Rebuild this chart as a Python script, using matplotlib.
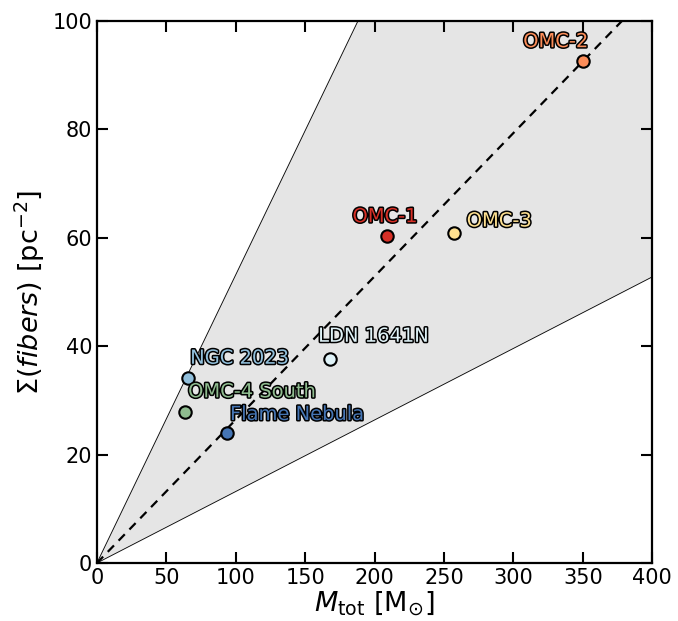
import numpy as np
import matplotlib
matplotlib.use("Agg")
import matplotlib.pyplot as plt
import matplotlib.patheffects as pe


# cloud data
names = ["OMC-1", "OMC-2", "OMC-3", "OMC-4 South", "NGC 2023", "Flame Nebula", "LDN 1641N"]
m_tot = [209, 350, 257, 63.5, 65.7, 93.7, 168]
sigma_fib = [60.4, 92.7, 60.9, 27.9, 34.1, 23.9, 37.6]
colors = ["#d73027", "#fc8d59", "#fee090", "#8fbc8f", "#91bfdb", "#4575b4", "#e0f3f8"]

# label offsets in pixels and alignment
label_offsets = [(-2, 19), (-27, 19), (13, 12), (3, 20), (2, 20), (3, 19), (-12, 23)]
label_ha = ["center", "center", "left", "left", "left", "left", "left"]

# slopes of the envelope and mean relation
slope_upper = 0.532
slope_lower = 0.132
slope_mean = 0.2645


def main():
    plt.rcParams["mathtext.fontset"] = "dejavusans"

    fig = plt.figure(figsize=(6.78, 6.21), dpi=100)
    ax = fig.add_axes([0.143, 0.0934, 0.819, 0.8726])

    x = np.array([0, 400])

    ax.fill_between(x, slope_lower * x, slope_upper * x, color="#e5e5e5", zorder=0)
    ax.plot(x, slope_upper * x, color="black", lw=0.6, zorder=1)
    ax.plot(x, slope_lower * x, color="black", lw=0.6, zorder=1)
    ax.plot(x, slope_mean * x, color="black", lw=1.6, ls=(0, (4, 3)), zorder=2)

    for i in range(len(names)):
        ax.scatter(
            m_tot[i], sigma_fib[i],
            s=80,
            color=colors[i],
            edgecolor="black",
            linewidth=1.5,
            zorder=3
        )
        txt = ax.annotate(
            names[i],
            (m_tot[i], sigma_fib[i]),
            xytext=label_offsets[i],
            textcoords="offset pixels",
            ha=label_ha[i],
            va="center",
            fontsize=14,
            color=colors[i],
            zorder=4
        )
        txt.set_path_effects([
            pe.Stroke(linewidth=2.2, foreground="black"),
            pe.Normal()
        ])

    ax.set_xlim(0, 400)
    ax.set_ylim(0, 100)

    ax.set_xlabel(r"$M_{\rm tot}$ [M$_{\odot}$]", fontsize=19.5, labelpad=1)
    ax.set_ylabel(r"$\Sigma(fibers)$ [pc$^{-2}$]", fontsize=19.5)

    ax.tick_params(
        direction="in",
        top=True,
        right=True,
        length=8,
        width=1.5,
        labelsize=15
    )

    for spine in ax.spines.values():
        spine.set_linewidth(1.6)

    fig.savefig("out.png", dpi=100)
    plt.close(fig)


if __name__ == "__main__":
    main()
